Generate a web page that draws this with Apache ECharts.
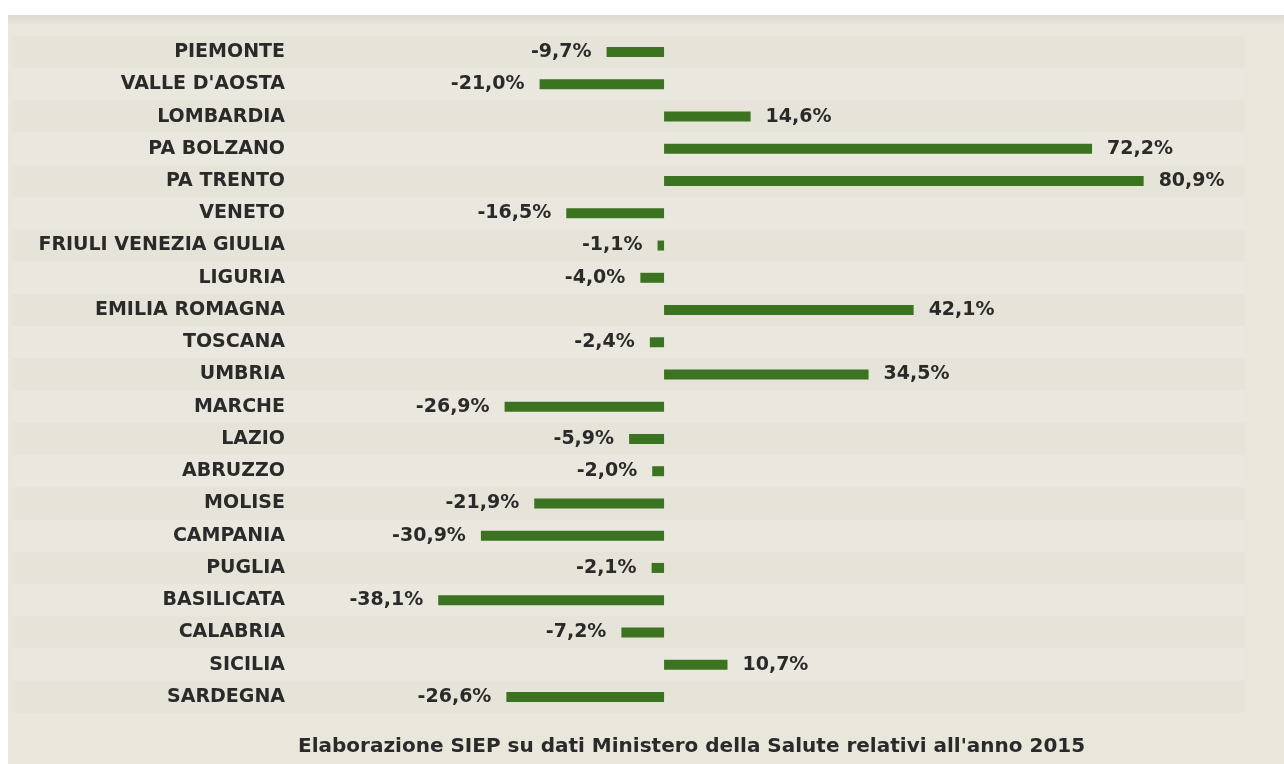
<!DOCTYPE html>
<html>
<head>
<meta charset="utf-8">
<script src="https://cdn.jsdelivr.net/npm/echarts@6/dist/echarts.min.js"></script>
<style>
  html, body { margin: 0; padding: 0; background: #fff; }
  #chart { width: 1284px; height: 764px; }
</style>
</head>
<body>
<div id="chart"></div>
<script>
var regions = ['PIEMONTE', "VALLE D'AOSTA", 'LOMBARDIA', 'PA BOLZANO', 'PA TRENTO', 'VENETO',
  'FRIULI VENEZIA GIULIA', 'LIGURIA', 'EMILIA ROMAGNA', 'TOSCANA', 'UMBRIA', 'MARCHE', 'LAZIO',
  'ABRUZZO', 'MOLISE', 'CAMPANIA', 'PUGLIA', 'BASILICATA', 'CALABRIA', 'SICILIA', 'SARDEGNA']
var variazione = [-9.7, -21.0, 14.6, 72.2, 80.9, -16.5, -1.1, -4.0, 42.1, -2.4, 34.5, -26.9, -5.9,
  -2.0, -21.9, -30.9, -2.1, -38.1, -7.2, 10.7, -26.6]
var fonte = "Elaborazione SIEP su dati Ministero della Salute relativi all'anno 2015"

var font = '"DejaVu Sans", sans-serif'
var chart = echarts.init(document.getElementById('chart'))

var barData = variazione.map(function(v) {
  return {
    value: v,
    label: { position: v < 0 ? 'left' : 'right' }
  }
})

chart.setOption({
  animation: false,
  graphic: [
    {
      type: 'rect',
      z: -10,
      shape: { x: 8, y: 15, width: 1276, height: 749 },
      style: { fill: '#e9e7dc' }
    },
    {
      type: 'rect',
      z: -9,
      shape: { x: 8, y: 15, width: 1276, height: 10 },
      style: {
        fill: new echarts.graphic.LinearGradient(0, 0, 0, 1, [
          { offset: 0, color: '#dcdad0' },
          { offset: 1, color: '#e9e7dc' }
        ])
      }
    },
    {
      type: 'text',
      left: 298,
      top: 737,
      style: {
        text: fonte,
        font: 'bold 20px ' + font,
        fill: '#2a2a2a'
      }
    }
  ],
  grid: {
    left: 12,
    right: 39,
    top: 36,
    height: 677
  },
  xAxis: {
    type: 'value',
    min: -110,
    max: 98,
    show: false
  },
  yAxis: {
    type: 'category',
    inverse: true,
    data: regions,
    axisLine: { show: false, onZero: false },
    axisTick: { show: false },
    axisLabel: {
      margin: -273,
      color: '#2a2a2a',
      fontFamily: font,
      fontWeight: 'bold',
      fontSize: 19
    },
    splitArea: {
      show: true,
      areaStyle: { color: ['#e6e4d9', '#eae8de'] }
    }
  },
  series: [
    {
      type: 'bar',
      data: barData,
      barWidth: 10,
      itemStyle: { color: '#3c7320' },
      label: {
        show: true,
        distance: 15,
        color: '#2a2a2a',
        fontFamily: font,
        fontWeight: 'bold',
        fontSize: 19,
        formatter: function(p) {
          return p.value.toFixed(1).replace('.', ',') + '%'
        }
      }
    }
  ]
})
</script>
</body>
</html>
